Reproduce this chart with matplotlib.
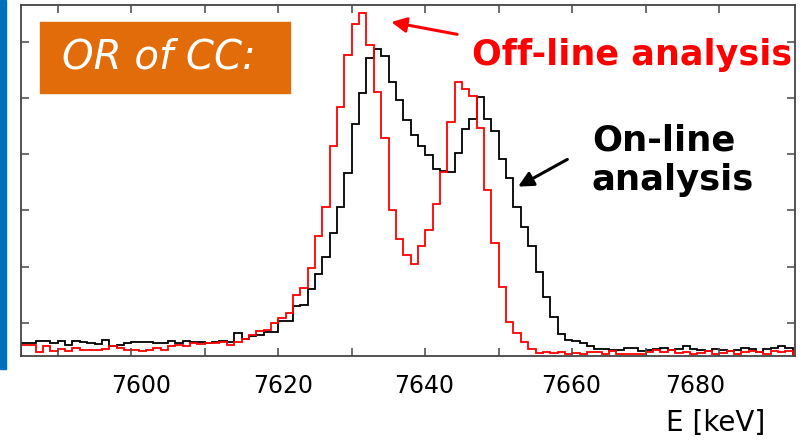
import numpy as np
import matplotlib

matplotlib.use("Agg")
import matplotlib.pyplot as plt  # noqa: E402
from matplotlib.patches import Rectangle  # noqa: E402

# 1 keV bins starting at 7585 keV
E_START = 7585

online = [
    32, 32, 34, 34, 32, 34, 30, 34, 33, 32, 31, 35, 29, 30, 32, 33, 33, 33, 32, 32,
    34, 32, 34, 33, 33, 32, 33, 34, 33, 41, 36, 38, 39, 42, 42, 52, 52, 65, 66, 80,
    93, 109, 130, 153, 183, 227, 254, 286, 294, 287, 264, 248, 230, 217, 207, 199, 187, 185, 184, 201,
    222, 231, 251, 231, 221, 196, 179, 153, 135, 118, 95, 73, 55, 40, 35, 34, 32, 29, 27, 27,
    26, 26, 28, 28, 25, 26, 27, 28, 26, 27, 29, 27, 26, 25, 27, 26, 25, 26, 28, 27,
    24, 27, 28, 29, 28,
]
offline = [
    30, 30, 24, 29, 25, 27, 25, 28, 26, 26, 26, 27, 29, 28, 26, 26, 25, 26, 28, 26,
    29, 30, 29, 32, 31, 32, 32, 33, 30, 33, 36, 39, 43, 44, 50, 54, 59, 75, 81, 99,
    127, 153, 207, 242, 288, 316, 326, 297, 255, 214, 150, 125, 110, 102, 118, 133, 156, 184, 229, 264,
    258, 252, 223, 168, 121, 82, 51, 41, 33, 27, 23, 24, 23, 24, 22, 23, 22, 24, 24, 22,
    25, 22, 22, 22, 22, 24, 26, 24, 26, 23, 24, 22, 23, 25, 22, 23, 25, 22, 24, 25,
    24, 22, 25, 24, 25,
]

x_ticks = [7590, 7600, 7610, 7620, 7630, 7640, 7650, 7660, 7670, 7680]
y_ticks = [50, 100, 150, 200, 250, 300]
label_pos = [7601.4, 7620.6, 7639.8, 7659.9, 7676.7]
label_txt = ["7600", "7620", "7640", "7660", "7680"]

plt.rcParams["font.family"] = ["DejaVu Sans"]

fig = plt.figure(figsize=(8.04, 4.41), dpi=100)
ax = fig.add_axes([21 / 804, 1 - 356 / 441, 774 / 804, 351 / 441])

edges = E_START + np.arange(len(online) + 1)
ax.stairs(online, edges, color="black", lw=1.3)
ax.stairs(offline, edges, color="#ff0000", lw=1.3)

ax.set_xlim(7585, 7690.3)
ax.set_ylim(20.5, 332.7)

# unlabelled ticks every 10 keV, labels placed separately
ax.set_xticks(x_ticks, minor=True)
ax.set_xticks(label_pos, label_txt)
ax.set_yticks(y_ticks, [])
ax.tick_params(axis="x", which="major", length=0, pad=13, labelsize=17,
               labelcolor="black")
ax.tick_params(axis="x", which="minor", direction="in", length=6, width=1.2,
               color="#555555", top=True, bottom=True)
ax.tick_params(axis="y", direction="in", length=6, width=1.2, color="#555555",
               left=True, right=True)
for s in ax.spines.values():
    s.set_color("#444444")
    s.set_linewidth(1.3)

ax.text(0.898, -0.19, "E [keV]", transform=ax.transAxes, ha="center", va="center",
        fontsize=20, color="black")

# orange label box
fig.patches.append(Rectangle((40 / 804, 1 - 93 / 441), 250 / 804, 71 / 441,
                             transform=fig.transFigure, color="#e36c0a", zorder=3))
fig.text(159 / 804, 1 - 57 / 441, "OR of CC:", ha="center", va="center",
         color="white", fontsize=29, style="italic", zorder=4)

fig.text(472 / 804, 1 - 55 / 441, "Off-line analysis", ha="left", va="center",
         color="#ff0000", fontsize=25.2, fontweight="bold")
fig.text(592 / 804, 1 - 160 / 441, "On-line\nanalysis", ha="left", va="center",
         color="black", fontsize=25.5, fontweight="bold", linespacing=1.2)

ax.annotate("", xy=(7635.0, 318), xytext=(0.567, 0.915), textcoords="axes fraction",
            arrowprops=dict(arrowstyle="-|>,head_length=0.9,head_width=0.45",
                            color="#ff0000", lw=2.2))
ax.annotate("", xy=(7652.3, 170), xytext=(0.709, 0.564), textcoords="axes fraction",
            arrowprops=dict(arrowstyle="-|>,head_length=0.9,head_width=0.45",
                            color="black", lw=2.2))

# blue slide bar on the left edge
fig.patches.append(Rectangle((0, 1 - 369 / 441), 6 / 804, 369 / 441,
                             transform=fig.transFigure, color="#0070c0", zorder=3))

fig.savefig("out.png", dpi=100)
